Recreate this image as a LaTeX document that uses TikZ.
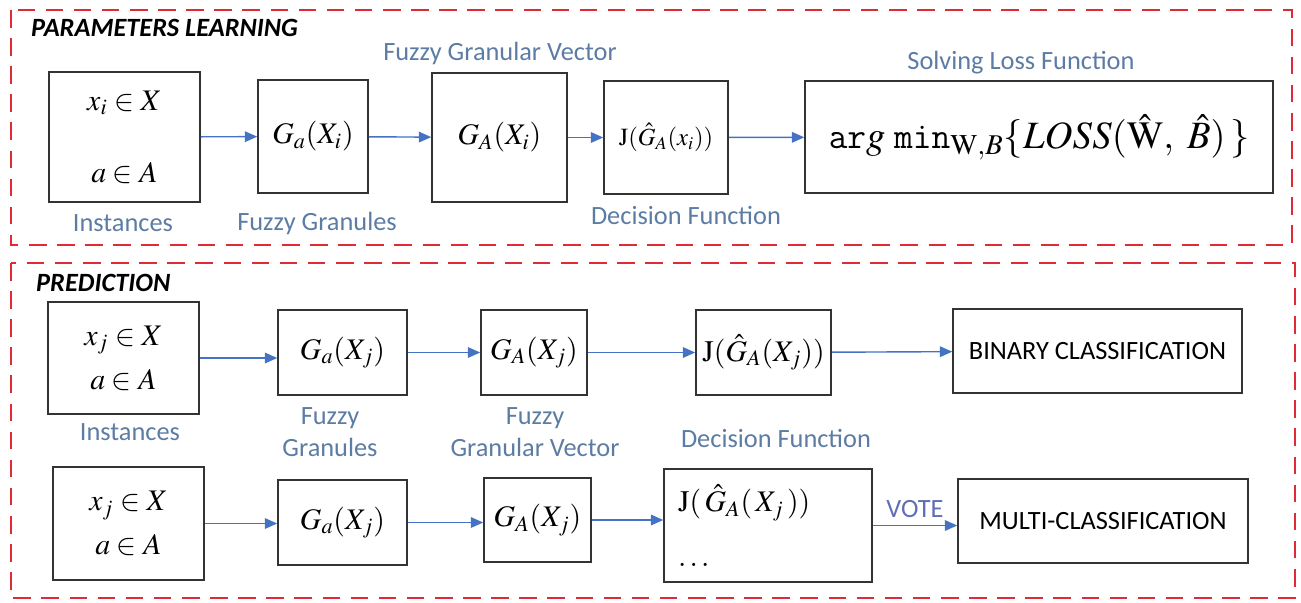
\documentclass[tikz,border=0pt]{standalone}
\usepackage{mathptmx}
\usepackage[no-math]{fontspec}
\setmainfont{Carlito}
\usetikzlibrary{arrows.meta}

\definecolor{framered}{RGB}{224,42,54}
\definecolor{arrowblue}{RGB}{68,114,196}
\definecolor{labelblue}{RGB}{92,124,164}
\definecolor{voteblue}{RGB}{96,110,182}

\begin{document}
\begin{tikzpicture}[
    x=0.02cm, y=-0.02cm,
    box/.style={draw=black!80, line width=0.9pt, inner sep=0pt, align=center, font=\fontsize{17}{20}\selectfont},
    lbl/.style={text=labelblue, align=center, font=\fontsize{15}{18}\selectfont},
    stage/.style={anchor=west, font=\fontsize{15}{18}\selectfont\bfseries\itshape},
    flow/.style={draw=arrowblue, line width=0.8pt, -{Triangle[length=7pt,width=6pt]}},
    region/.style={draw=framered, line width=1.6pt, dash pattern=on 10pt off 6pt}
]
\useasboundingbox (0,0) rectangle (1301,602);

% parameters learning
\draw[region] (11,10) rectangle (1292,245);
\node[stage] (pl) at (25,28) {PARAMETERS LEARNING};

\node[box, minimum width=3.02cm, minimum height=2.6cm] (inst1) at (124.5,137) {$x_i \in X$\\[21pt]$a \in A$};
\node[box, minimum width=2.2cm, minimum height=2.26cm] (fg1) at (313,136.5) {$G_a(X_i)$};
\node[box, minimum width=2.7cm, minimum height=2.58cm] (fgv1) at (499.5,137.5) {$G_A(X_i)$};
\node[box, minimum width=2.48cm, minimum height=2.26cm, font=\fontsize{14}{17}\selectfont] (dec1) at (666,137.5) {$\mathrm{J}(\hat{G}_A(x_i))$};
\node[box, minimum width=9.36cm, minimum height=2.24cm, font=\fontsize{22}{26}\selectfont] (loss) at (1039,137) {$\mathtt{ar}g\ \mathtt{min}_{\mathrm{W},B}\{LOSS(\hat{\mathrm{W}},\ \hat{B})\,\}$};

\node[lbl] (linst1) at (123,223) {Instances};
\node[lbl] (lfg1) at (317,223) {Fuzzy Granules};
\node[lbl] (lfgv1) at (500,53) {Fuzzy Granular Vector};
\node[lbl] (ldec1) at (686,215) {Decision Function};
\node[lbl] (lloss) at (1021,63) {Solving Loss Function};

\draw[flow] (inst1) -- (fg1);
\draw[flow] (fg1) -- (fgv1);
\draw[flow] (fgv1) -- (dec1);
\draw[flow] (dec1) -- (loss);

% prediction
\draw[region] (11,263) rectangle (1295,598);
\node[stage] (pr) at (30,283) {PREDICTION};

\node[box, minimum width=3.02cm, minimum height=2.24cm] (inst2) at (123.5,358) {$x_j \in X$\\[5pt]$a \in A$};
\node[box, minimum width=2.58cm, minimum height=1.7cm] (fg2) at (342.5,352.5) {$G_a(X_j)$};
\node[box, minimum width=2.12cm, minimum height=1.7cm] (fgv2) at (534,352.5) {$G_A(X_j)$};
\node[box, minimum width=2.7cm, minimum height=1.7cm] (dec2) at (763.5,352.5) {$\mathrm{J}(\hat{G}_A(X_j))$};
\node[box, minimum width=5.78cm, minimum height=1.68cm, font=\fontsize{15}{18}\selectfont] (bin) at (1097.5,351) {BINARY CLASSIFICATION};

\node[lbl] (linst2) at (130,432) {Instances};
\node[lbl] (lfg2) at (330,432) {Fuzzy\\Granules};
\node[lbl] (lfgv2) at (535,432) {Fuzzy\\Granular Vector};
\node[lbl] (ldec2) at (776,438) {Decision Function};

\draw[flow] (inst2.east) -- (inst2.east -| fg2.west);
\draw[flow] (fg2) -- (fgv2);
\draw[flow] (fgv2) -- (dec2);
\draw[flow] (dec2) -- (bin);

\node[box, minimum width=3.02cm, minimum height=2.26cm] (inst3) at (128.5,523.5) {$x_j \in X$\\[5pt]$a \in A$};
\node[box, minimum width=2.58cm, minimum height=1.7cm] (fg3) at (342.5,522.5) {$G_a(X_j)$};
\node[box, minimum width=2.14cm, minimum height=1.68cm] (fgv3) at (537.5,520) {$G_A(X_j)$};
\node[box, minimum height=2.26cm, text width=3.6cm, inner xsep=0.28cm, align=left] (dec3) at (768,525.5) {$\mathrm{J}(\,\hat{G}_A(\,X_j\,))$\\[11pt]$\ldots$};
\node[box, minimum width=5.8cm, minimum height=1.68cm, font=\fontsize{15}{18}\selectfont] (multi) at (1103,521) {MULTI-CLASSIFICATION};

\draw[flow] (inst3.east) -- (inst3.east -| fg3.west);
\draw[flow] (fg3.east) -- (fg3.east -| fgv3.west);
\draw[flow] (fgv3.east) -- (fgv3.east -| dec3.west);
\draw[flow] (dec3.east) -- node[above=1pt, text=voteblue, font=\fontsize{15}{18}\selectfont] {VOTE} (dec3.east -| multi.west);

\end{tikzpicture}
\end{document}
